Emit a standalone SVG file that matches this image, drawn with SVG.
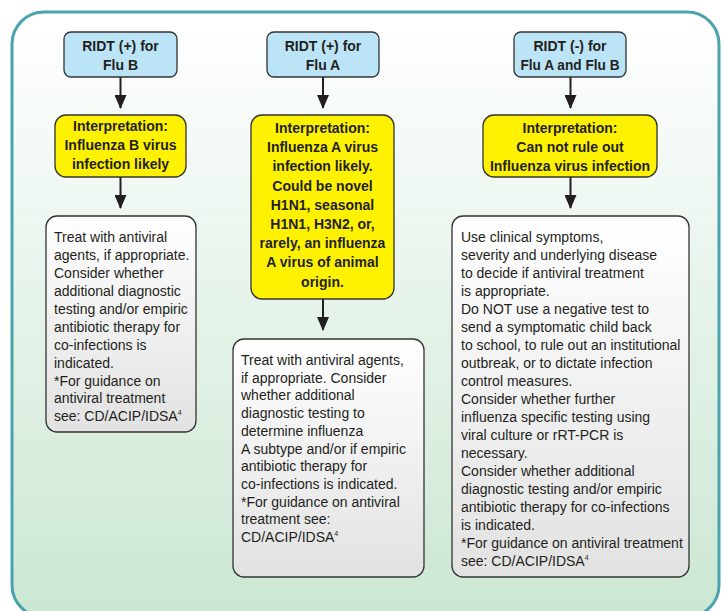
<svg xmlns="http://www.w3.org/2000/svg" width="725" height="611" viewBox="0 0 725 611">
<defs>
<linearGradient id="bg" x1="0" y1="0" x2="0" y2="1">
<stop offset="0" stop-color="#ffffff"/>
<stop offset="1" stop-color="#cbe7d3"/>
</linearGradient>
<linearGradient id="gray" x1="0" y1="0" x2="0" y2="1">
<stop offset="0" stop-color="#ffffff"/>
<stop offset="1" stop-color="#e2e2e2"/>
</linearGradient>
<marker id="arr" viewBox="0 0 14 12" refX="13" refY="6" markerWidth="14" markerHeight="12" markerUnits="userSpaceOnUse" orient="auto">
<path d="M0,0 L14,6 L0,12 Z" fill="#231f20"/>
</marker>
<style>
.blue{fill:#bce4f7;stroke:#333;stroke-width:1.3}
.yel{fill:#fff200;stroke:#333;stroke-width:1.3}
.gry{fill:url(#gray);stroke:#333;stroke-width:1.3}
.b{font-family:"Liberation Sans",Arial,sans-serif;font-weight:bold;font-size:14px;fill:#231f20;text-anchor:middle}
.t{font-family:"Liberation Sans",Arial,sans-serif;font-size:14px;fill:#231f20}
.sup{font-size:7px}
.con{stroke:#231f20;stroke-width:2;fill:none}
</style>
</defs>
<rect x="0" y="0" width="725" height="611" fill="#ffffff"/>
<rect id="frame" x="12" y="12" width="707" height="605" rx="32" ry="32" fill="url(#bg)" stroke="#4aa3ad" stroke-width="3"/>

<g id="connectors">
<line class="con" x1="120.5" y1="77" x2="120.5" y2="108" marker-end="url(#arr)"/>
<line class="con" x1="120.5" y1="177" x2="120.5" y2="208" marker-end="url(#arr)"/>
<line class="con" x1="323" y1="77" x2="323" y2="108" marker-end="url(#arr)"/>
<line class="con" x1="323" y1="299" x2="323" y2="330" marker-end="url(#arr)"/>
<line class="con" x1="570.5" y1="77" x2="570.5" y2="108" marker-end="url(#arr)"/>
<line class="con" x1="570.5" y1="177" x2="570.5" y2="208" marker-end="url(#arr)"/>
</g>

<g id="ridt-b">
<rect class="blue" x="64" y="32" width="113" height="45" rx="7"/>
<text class="b" x="120.5" y="51">RIDT (+) for</text>
<text class="b" x="120.5" y="69.5">Flu B</text>
</g>
<g id="ridt-a">
<rect class="blue" x="267" y="32" width="112" height="45" rx="7"/>
<text class="b" x="323" y="51">RIDT (+) for</text>
<text class="b" x="323" y="69.5">Flu A</text>
</g>
<g id="ridt-neg">
<rect class="blue" x="514" y="32" width="112" height="45" rx="7"/>
<text class="b" x="570" y="51">RIDT (-) for</text>
<text class="b" x="570" y="69.5" textLength="99" lengthAdjust="spacingAndGlyphs">Flu A and Flu B</text>
</g>

<g id="interp-b">
<rect class="yel" x="55" y="115" width="131" height="62" rx="11"/>
<text class="b" x="120.5" y="131">Interpretation:</text>
<text class="b" x="120.5" y="150">Influenza B virus</text>
<text class="b" x="120.5" y="169">infection likely</text>
</g>
<g id="interp-a">
<rect class="yel" x="251" y="115" width="143" height="184" rx="11"/>
<text class="b" x="322.5" y="133">Interpretation:</text>
<text class="b" x="322.5" y="152.2">Influenza A virus</text>
<text class="b" x="322.5" y="171.4">infection likely.</text>
<text class="b" x="322.5" y="190.6">Could be novel</text>
<text class="b" x="322.5" y="209.8">H1N1, seasonal</text>
<text class="b" x="322.5" y="229">H1N1, H3N2, or,</text>
<text class="b" x="322.5" y="248.2">rarely, an influenza</text>
<text class="b" x="322.5" y="267.4">A virus of animal</text>
<text class="b" x="322.5" y="286.6">origin.</text>
</g>
<g id="interp-neg">
<rect class="yel" x="483" y="115" width="174" height="62" rx="11"/>
<text class="b" x="570" y="132.5">Interpretation:</text>
<text class="b" x="570" y="151.5">Can not rule out</text>
<text class="b" x="570" y="170.5">Influenza virus infection</text>
</g>

<g id="action-b">
<rect class="gry" x="46" y="216" width="150" height="216" rx="11"/>
<text class="t" x="54" y="242.3">Treat with antiviral</text>
<text class="t" x="54" y="260.2">agents, if appropriate.</text>
<text class="t" x="54" y="278.1">Consider whether</text>
<text class="t" x="54" y="296">additional diagnostic</text>
<text class="t" x="54" y="313.9">testing and/or empiric</text>
<text class="t" x="54" y="331.8">antibiotic therapy for</text>
<text class="t" x="54" y="349.7">co-infections is</text>
<text class="t" x="54" y="367.6">indicated.</text>
<text class="t" x="54" y="385.5">*For guidance on</text>
<text class="t" x="54" y="403.4">antiviral treatment</text>
<text class="t" x="54" y="421.3">see: CD/ACIP/IDSA<tspan class="sup" dy="-6">4</tspan></text>
</g>
<g id="action-a">
<rect class="gry" x="233" y="339" width="191" height="238" rx="11"/>
<text class="t" x="241" y="365">Treat with antiviral agents,</text>
<text class="t" x="241" y="382.7">if appropriate. Consider</text>
<text class="t" x="241" y="400.4">whether additional</text>
<text class="t" x="241" y="418.1">diagnostic testing to</text>
<text class="t" x="241" y="435.8">determine influenza</text>
<text class="t" x="241" y="453.5">A subtype and/or if empiric</text>
<text class="t" x="241" y="471.2">antibiotic therapy for</text>
<text class="t" x="241" y="488.9">co-infections is indicated.</text>
<text class="t" x="241" y="506.6">*For guidance on antiviral</text>
<text class="t" x="241" y="524.3">treatment see:</text>
<text class="t" x="241" y="542">CD/ACIP/IDSA<tspan class="sup" dy="-6">4</tspan></text>
</g>
<g id="action-neg">
<rect class="gry" x="452" y="216" width="237" height="361" rx="11"/>
<text class="t" x="461" y="242.3">Use clinical symptoms,</text>
<text class="t" x="461" y="260.3">severity and underlying disease</text>
<text class="t" x="461" y="278.3">to decide if antiviral treatment</text>
<text class="t" x="461" y="296.3">is appropriate.</text>
<text class="t" x="461" y="314.3">Do NOT use a negative test to</text>
<text class="t" x="461" y="332.3">send a symptomatic child back</text>
<text class="t" x="461" y="350.3">to school, to rule out an institutional</text>
<text class="t" x="461" y="368.3">outbreak, or to dictate infection</text>
<text class="t" x="461" y="386.3">control measures.</text>
<text class="t" x="461" y="404.3">Consider whether further</text>
<text class="t" x="461" y="422.3">influenza specific testing using</text>
<text class="t" x="461" y="440.3">viral culture or rRT-PCR is</text>
<text class="t" x="461" y="458.3">necessary.</text>
<text class="t" x="461" y="476.3">Consider whether additional</text>
<text class="t" x="461" y="494.3">diagnostic testing and/or empiric</text>
<text class="t" x="461" y="512.3">antibiotic therapy for co-infections</text>
<text class="t" x="461" y="530.3">is indicated.</text>
<text class="t" x="461" y="548.3">*For guidance on antiviral treatment</text>
<text class="t" x="461" y="566.3">see: CD/ACIP/IDSA<tspan class="sup" dy="-6">4</tspan></text>
</g>
</svg>
